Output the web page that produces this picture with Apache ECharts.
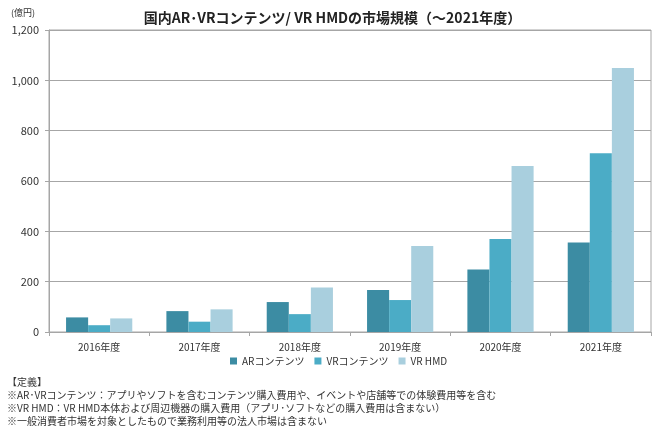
<!DOCTYPE html>
<html><head><meta charset="utf-8">
<script src="https://cdn.jsdelivr.net/npm/echarts@6/dist/echarts.min.js"></script>
<style>html,body{margin:0;padding:0;background:#fff}#c{width:665px;height:438px}</style>
</head><body><div id="c"></div>
<script>
const categories = ['2016年度','2017年度','2018年度','2019年度','2020年度','2021年度'];
const arContents = [58, 83, 119, 167, 248, 356];
const vrContents = [27, 41, 71, 127, 370, 710];
const vrHmd = [54, 90, 177, 342, 660, 1049];
const seriesNames = ['ARコンテンツ','VRコンテンツ','VR HMD'];
const yTicks = [0, 200, 400, 600, 800, 1000, 1200];
const notes = [
  '【定義】',
  '※AR･VRコンテンツ：アプリやソフトを含むコンテンツ購入費用や、イベントや店舗等での体験費用等を含む',
  '※VR HMD：VR HMD本体および周辺機器の購入費用（アプリ･ソフトなどの購入費用は含まない）',
  '※一般消費者市場を対象としたもので業務利用等の法人市場は含まない'
];
const FONT = '"Noto Sans CJK JP", sans-serif';
const colors = ['#3c8ca3', '#4bacc6', '#a9cfde'];
const chart = echarts.init(document.getElementById('c'));
chart.setOption({
  animation: false,
  textStyle: { fontFamily: FONT },
  title: {
    text: '国内AR･VRコンテンツ/ VR HMDの市場規模（～2021年度）',
    left: 'center', top: 6,
    textStyle: { fontFamily: FONT, fontSize: 14, fontWeight: 'bold', color: '#222' }
  },
  legend: {
    data: seriesNames, left: 225, top: 351,
    itemWidth: 7, itemHeight: 7, itemGap: 10,
    icon: 'rect',
    textStyle: { fontFamily: FONT, fontSize: 10, color: '#333' }
  },
  grid: { left: 49, right: 14, top: 30, bottom: 106, show: true, borderColor: '#a6a6a6', borderWidth: 1 },
  xAxis: {
    type: 'category', data: categories,
    axisLine: { lineStyle: { color: '#a6a6a6' } },
    axisTick: { show: true, length: 4, lineStyle: { color: '#a6a6a6' } },
    axisLabel: { fontFamily: FONT, fontSize: 10, color: '#333', margin: 10 }
  },
  yAxis: {
    type: 'value', min: yTicks[0], max: yTicks[yTicks.length - 1], interval: 200,
    axisLine: { show: true, lineStyle: { color: '#a6a6a6' } },
    axisTick: { show: true, length: 4, lineStyle: { color: '#a6a6a6' } },
    splitLine: { lineStyle: { color: '#a6a6a6' } },
    axisLabel: {
      fontFamily: FONT, fontSize: 11, color: '#333', margin: 10,
      formatter: v => v.toLocaleString('en-US')
    }
  },
  series: [
    { name: seriesNames[0], type: 'bar', data: arContents, itemStyle: { color: colors[0] }, barGap: '0%', barCategoryGap: '34%' },
    { name: seriesNames[1], type: 'bar', data: vrContents, itemStyle: { color: colors[1] } },
    { name: seriesNames[2], type: 'bar', data: vrHmd, itemStyle: { color: colors[2] } }
  ],
  graphic: [
    { type: 'text', left: 11, top: 8, style: { text: '(億円)', fontFamily: FONT, fontSize: 9, fill: '#333' } }
  ].concat(notes.map((t, i) => ({
    type: 'text', left: 7, top: 377 + i * 13,
    style: { text: t, fontFamily: FONT, fontSize: 10, fill: '#333' }
  })))
});
</script></body></html>
